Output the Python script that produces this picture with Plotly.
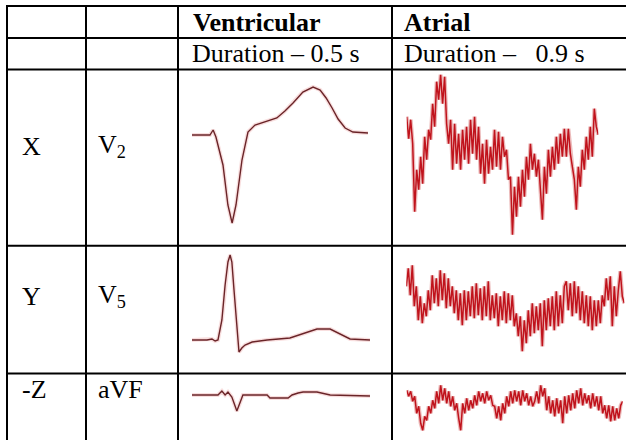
import plotly.graph_objects as go

W, H = 626, 440

# ---------------- table text ----------------
col_headers = ["<b>Ventricular</b>", "<b>Atrial</b>"]
durations = ["Duration – 0.5 s", "Duration –   0.9 s"]
axis_labels = ["X", "Y", "-Z"]
lead_labels = ["V<sub>2</sub>", "V<sub>5</sub>", "aVF"]

# ---------------- ventricular waveforms (time ms, amplitude mV) ----------------
vx_t = [0, 51, 60, 68, 88, 102, 114, 125, 142, 159, 179, 216, 241, 264, 287, 315,
        344, 364, 381, 398, 415, 435, 457, 500]
vx_a = [0, 0, 0.05, -0.02, -0.30, -0.70, -0.88, -0.70, -0.25, 0.03, 0.10, 0.14,
        0.17, 0.24, 0.32, 0.43, 0.48, 0.45, 0.37, 0.27, 0.16, 0.07, 0.03, 0.02]

vy_t = [0, 42, 56, 65, 73, 84, 93, 101, 107, 112, 118, 126, 132, 140, 149, 169,
        211, 275, 312, 351, 388, 416, 444, 500]
vy_a = [0, 0, 0.01, -0.01, 0, 0.20, 0.55, 0.78, 0.85, 0.78, 0.50, 0.17, -0.12,
        -0.08, -0.05, -0.02, 0, 0.02, 0.06, 0.11, 0.11, 0.06, 0.01, 0]

vz_t = [0, 73, 84, 93, 101, 112, 126, 135, 143, 211, 219, 270, 281, 298, 312, 351, 388, 500]
vz_a = [0, 0, 0.04, 0, 0.03, -0.02, -0.16, -0.07, 0, 0, -0.03, -0.03, 0, 0.02,
        0.03, 0.03, 0, -0.01]

# ---------------- atrial waveforms (amplitude, x10 uV; uniform samples over 0.9 s) ----------------
ax_a = [120, 98, 117, 93, 25, 67, 47, 80, 53, 100, 77, 107, 97, 133, 110, 155, 137, 162,
        133, 160, 113, 93, 117, 67, 113, 73, 103, 67, 107, 77, 110, 73, 117, 83, 120, 77,
        110, 63, 93, 53, 97, 63, 90, 67, 107, 70, 105, 67, 100, 80, 87, 57, 60, 2, 50, 20,
        60, 30, 67, 40, 80, 57, 93, 67, 83, 60, 77, 43, 17, 70, 43, 87, 60, 90, 67, 100,
        73, 103, 80, 108, 80, 108, 83, 70, 57, 27, 70, 50, 87, 67, 100, 77, 110, 80, 128,
        110, 102]

ay_a = [67, 85, 58, 88, 47, 67, 33, 57, 30, 50, 37, 63, 43, 78, 50, 75, 47, 83, 53, 80,
        45, 75, 47, 67, 40, 63, 33, 60, 28, 63, 33, 62, 37, 67, 35, 70, 38, 65, 33, 67,
        37, 72, 33, 58, 35, 60, 27, 57, 33, 62, 30, 60, 33, 58, 27, 40, 17, 37, 2, 33,
        10, 43, 17, 50, 20, 47, 23, 50, 7, 53, 23, 55, 27, 57, 23, 62, 27, 58, 30, 67,
        72, 43, 70, 37, 72, 40, 67, 33, 62, 30, 58, 27, 57, 23, 53, 27, 53, 30, 58, 47,
        75, 53, 77, 27, 67, 37, 63, 82, 57, 50]

az_a = [43, 37, 42, 32, 37, 20, 27, 10, 3, 17, 13, 27, 20, 33, 25, 42, 30, 48, 33, 45,
        30, 42, 27, 37, 23, 30, 15, 3, 30, 20, 35, 23, 33, 25, 38, 28, 42, 32, 40, 30,
        42, 33, 38, 28, 27, 15, 27, 13, 30, 20, 37, 27, 42, 30, 43, 32, 42, 28, 43, 32,
        40, 28, 37, 27, 32, 42, 30, 48, 37, 45, 23, 37, 20, 33, 17, 35, 20, 33, 10, 37,
        20, 38, 23, 40, 25, 43, 30, 45, 28, 40, 30, 38, 25, 40, 27, 37, 23, 37, 20, 28,
        15, 28, 12, 27, 13, 25, 15, 28, 32]

ATR_DUR = 0.9

# ---------------- layout helpers (pixel geometry) ----------------
def px(x):
    return x / W

def py(y):
    return 1 - y / H

fig = go.Figure()

VCOL = "#6a2428"
ACOL = "#c0131c"

panels = [
    # (t, a, x0, x1, y_top, y_bot, xr, yr, color, width)
    (vx_t, vx_a, 192, 368, 85, 225, [0, 500], [-0.9, 0.5], VCOL, 1.4),
    (vy_t, vy_a, 192, 370, 250, 355, [0, 500], [-0.15, 0.9], VCOL, 1.4),
    (vz_t, vz_a, 192, 370, 385, 415, [0, 500], [-0.2, 0.1], VCOL, 1.4),
    (None, ax_a, 406.7, 598.3, 66.7, 236.7, [0, ATR_DUR], [0, 170], ACOL, 1.5),
    (None, ay_a, 406.3, 624.3, 258.3, 353.3, [0, ATR_DUR], [0, 95], ACOL, 1.5),
    (None, az_a, 406.7, 622.7, 383.3, 433.3, [0, ATR_DUR], [0, 50], ACOL, 1.5),
]

for i, (t, a, x0, x1, yt, yb, xr, yr, col, lw) in enumerate(panels, start=1):
    if t is None:
        n = len(a)
        t = [k * ATR_DUR / (n - 1) for k in range(n)]
    xa = "x" if i == 1 else f"x{i}"
    ya = "y" if i == 1 else f"y{i}"
    halo = "rgba(235,160,160,0.35)" if col == VCOL else "rgba(200,60,60,0.35)"
    fig.add_trace(go.Scatter(x=t, y=a, mode="lines", xaxis=xa, yaxis=ya,
                             line=dict(color=halo, width=4), hoverinfo="skip",
                             showlegend=False))
    fig.add_trace(go.Scatter(x=t, y=a, mode="lines", xaxis=xa, yaxis=ya,
                             line=dict(color=col, width=lw), showlegend=False))
    sfx = "" if i == 1 else str(i)
    fig.layout["xaxis" + sfx] = dict(domain=[px(x0), px(x1)], range=xr, visible=False,
                                     fixedrange=True, anchor=ya)
    fig.layout["yaxis" + sfx] = dict(domain=[py(yb), py(yt)], range=yr, visible=False,
                                     fixedrange=True, anchor=xa)

# ---------------- grid lines ----------------
LW = 2
hlines = [6, 38, 69.5, 245.7, 373.4]
vlines = [7, 86, 178, 392]
shapes = []
for y in hlines:
    shapes.append(dict(type="line", xref="paper", yref="paper", x0=px(6), x1=1.0,
                       y0=py(y), y1=py(y), line=dict(color="black", width=LW)))
for x in vlines:
    shapes.append(dict(type="line", xref="paper", yref="paper", x0=px(x), x1=px(x),
                       y0=py(5), y1=0, line=dict(color="black", width=LW)))

FONT = "Liberation Serif, Times New Roman, serif"
FS = 26
ann = []

def add_text(text, x, y):
    ann.append(dict(text=text, x=px(x), y=py(y), xref="paper", yref="paper",
                    xanchor="left", yanchor="middle", showarrow=False,
                    font=dict(family=FONT, size=FS, color="black")))

add_text(col_headers[0], 191, 23)
add_text(col_headers[1], 402, 23)
add_text(durations[0], 190, 53)
add_text(durations[1], 402, 53)
row_y = [146, 296, 389]
for lab, lead, y in zip(axis_labels, lead_labels, row_y):
    add_text(lab, 20, y)
    add_text(lead, 96, y)

fig.update_layout(width=W, height=H, margin=dict(l=0, r=0, t=0, b=0),
                  paper_bgcolor="white", plot_bgcolor="white",
                  shapes=shapes, annotations=ann, showlegend=False)

fig.write_html("out.html")
